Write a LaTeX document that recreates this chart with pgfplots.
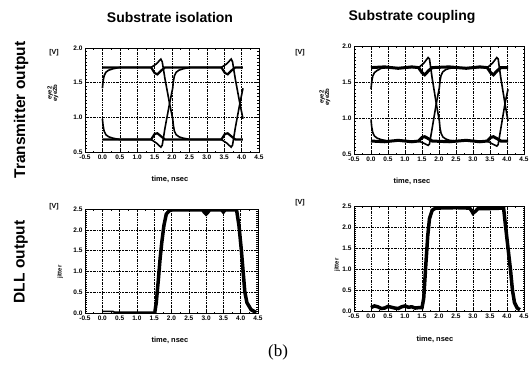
\documentclass[border=0pt]{standalone}
\usepackage{pgfplots}
\pgfplotsset{compat=1.18}
\usepackage{fontspec}
\setmainfont{Liberation Sans}
\newfontfamily\seriffont{Liberation Serif}

\pgfplotsset{
  myax/.style={
    scale only axis, width=174pt,
    xmin=-0.5, xmax=4.5,
    xtick={-0.5,0,0.5,1,1.5,2,2.5,3,3.5,4,4.5},
    grid=major,
    major grid style={black, line width=0.5pt, dash pattern=on 2pt off 1pt on 0.6pt off 1pt},
    axis line style={black, line width=0.8pt},
    tick style={black, line width=0.5pt},
    tick align=inside,
    minor y tick num=9, minor x tick num=1,
    major tick length=3pt, minor tick length=1.5pt,
    tick label style={font=\fontsize{6.5}{7}\selectfont\bfseries},
    xticklabel style={yshift=1pt},
    yticklabel style={xshift=1pt},
    /pgf/number format/fixed, /pgf/number format/fixed zerofill,
    /pgf/number format/precision=1, /pgf/number format/assume math mode=true,
    clip=true,
  },
  eyeax/.style={myax, height=104pt, ymin=0.5, ymax=2.0, ytick={0.5,1.0,1.5,2.0}},
  jitax/.style={myax, height=104pt, ymin=0, ymax=2.5, ytick={0,0.5,1.0,1.5,2.0,2.5}},
}

\begin{document}
\begin{tikzpicture}[x=1pt,y=1pt]
\useasboundingbox (0,0) rectangle (530,-378);

% Titles
\node[font=\bfseries\fontsize{14}{16}\selectfont] at (170,-17) {Substrate isolation};
\node[font=\bfseries\fontsize{14}{16}\selectfont] at (412,-17) {Substrate coupling};
\node[rotate=90, font=\bfseries\fontsize{15.5}{17}\selectfont] at (21,-110) {Transmitter output};
\node[rotate=90, font=\bfseries\fontsize{15.5}{17}\selectfont] at (21,-262) {DLL output};
\node[font=\seriffont\fontsize{17}{19}\selectfont] at (278,-352) {(b)};

% ---------------- Top-left: eye, substrate isolation
\begin{axis}[eyeax, at={(85pt,-152pt)}, anchor=south west]
\addplot[black, line width=2.2pt] coordinates {(0,1.72) (1.40,1.72) (1.50,1.64) (1.58,1.62) (1.70,1.68) (1.80,1.72) (3.42,1.72) (3.52,1.64) (3.60,1.62) (3.72,1.68) (3.82,1.72) (4.04,1.72)};
\addplot[black, line width=2.2pt] coordinates {(0,0.68) (1.40,0.68) (1.50,0.76) (1.58,0.77) (1.70,0.72) (1.80,0.68) (3.42,0.68) (3.52,0.76) (3.60,0.77) (3.72,0.72) (3.82,0.68) (4.04,0.68)};
\addplot[black, line width=1.6pt] coordinates {(0,1.42) (0.02,1.52) (0.05,1.60) (0.10,1.65) (0.18,1.68) (0.30,1.70) (0.50,1.72) (1.40,1.72) (1.55,1.77) (1.68,1.84) (1.72,1.80) (1.80,1.55) (1.93,1.20) (2.02,0.98) (2.04,0.88) (2.07,0.80) (2.12,0.75) (2.20,0.72) (2.32,0.70) (2.52,0.68) (3.42,0.68) (3.57,0.63) (3.70,0.57) (3.74,0.60) (3.82,0.85) (3.95,1.20) (4.04,1.42)};
\addplot[black, line width=1.6pt] coordinates {(0,0.98) (0.02,0.88) (0.05,0.80) (0.10,0.75) (0.18,0.72) (0.30,0.70) (0.50,0.68) (1.40,0.68) (1.55,0.63) (1.68,0.57) (1.72,0.60) (1.80,0.85) (1.93,1.20) (2.02,1.42) (2.04,1.52) (2.07,1.60) (2.12,1.65) (2.20,1.68) (2.32,1.70) (2.52,1.72) (3.42,1.72) (3.57,1.77) (3.70,1.84) (3.74,1.80) (3.82,1.55) (3.95,1.20) (4.04,0.98)};
\end{axis}
\node[font=\fontsize{7}{8}\selectfont\bfseries] at (54,-53) {[V]};
\node[rotate=90, font=\fontsize{6}{6.5}\selectfont\bfseries, align=center] at (53,-93) {eye2\\[-1pt]eye2b};
\node[font=\fontsize{7.5}{8}\selectfont\bfseries] at (170,-179) {time, nsec};

% ---------------- Top-right: eye, substrate coupling
\begin{axis}[eyeax, at={(354pt,-154pt)}, anchor=south west, width=170pt, height=108pt]
\addplot[black, line width=3pt] coordinates {(0,1.70) (0.4,1.71) (0.8,1.69) (1.2,1.71) (1.40,1.70) (1.50,1.63) (1.58,1.60) (1.70,1.66) (1.80,1.70) (2.3,1.71) (2.8,1.69) (3.2,1.71) (3.42,1.70) (3.52,1.63) (3.60,1.60) (3.72,1.66) (3.82,1.70) (4.03,1.70)};
\addplot[black, line width=3pt] coordinates {(0,0.68) (0.4,0.67) (0.8,0.69) (1.2,0.67) (1.40,0.68) (1.50,0.73) (1.58,0.74) (1.70,0.71) (1.80,0.68) (2.3,0.67) (2.8,0.69) (3.2,0.67) (3.42,0.68) (3.52,0.73) (3.60,0.74) (3.72,0.71) (3.82,0.68) (4.03,0.68)};
\addplot[black, line width=1.6pt] coordinates {(0,1.40) (0.02,1.50) (0.05,1.58) (0.10,1.63) (0.18,1.66) (0.30,1.69) (0.50,1.70) (1.40,1.70) (1.55,1.76) (1.68,1.84) (1.72,1.82) (1.80,1.55) (1.92,1.20) (2.01,0.96) (2.03,0.86) (2.06,0.79) (2.11,0.74) (2.19,0.71) (2.31,0.69) (2.51,0.68) (3.42,0.68) (3.57,0.64) (3.70,0.61) (3.74,0.63) (3.82,0.86) (3.94,1.20) (4.03,1.40)};
\addplot[black, line width=1.6pt] coordinates {(0,0.98) (0.02,0.88) (0.05,0.80) (0.10,0.75) (0.18,0.72) (0.30,0.70) (0.50,0.68) (1.40,0.68) (1.55,0.65) (1.68,0.62) (1.72,0.64) (1.80,0.86) (1.92,1.20) (2.01,1.42) (2.03,1.52) (2.06,1.59) (2.11,1.64) (2.19,1.67) (2.31,1.69) (2.51,1.70) (3.42,1.70) (3.57,1.76) (3.70,1.84) (3.74,1.82) (3.82,1.55) (3.94,1.20) (4.03,0.96)};
\end{axis}
\node[font=\fontsize{7}{8}\selectfont\bfseries] at (300,-53) {[V]};
\node[rotate=90, font=\fontsize{6}{6.5}\selectfont\bfseries, align=center] at (325,-97) {eye2\\[-1pt]eye2b};
\node[font=\fontsize{7.5}{8}\selectfont\bfseries] at (412,-181) {time, nsec};

% ---------------- Bottom-left: jitter, isolation
\begin{axis}[jitax, at={(85pt,-313pt)}, anchor=south west, width=173pt]
\addplot[black, line width=2pt] coordinates {(2.6,2.48) (3.7,2.48)};
\addplot[black, line width=1.6pt] coordinates {(0,0.04) (0.3,0.04) (0.35,0.02) (1.5,0.02)};
\addplot[black, line width=3.5pt] coordinates {(1.50,0.02) (1.52,0.03) (1.56,0.25) (1.62,0.8) (1.67,1.3) (1.72,1.7) (1.78,2.1) (1.85,2.38) (1.95,2.47) (2.05,2.48) (2.9,2.48) (2.95,2.42) (3.0,2.38) (3.05,2.42) (3.1,2.48) (3.45,2.48) (3.5,2.43) (3.55,2.48) (3.88,2.48) (3.95,2.1) (4.02,1.5) (4.07,1.0) (4.12,0.5) (4.18,0.25) (4.3,0.08) (4.45,0.01)};
\end{axis}
\node[font=\fontsize{7}{8}\selectfont\bfseries] at (54,-207) {[V]};
\node[rotate=90, font=\fontsize{6}{6.5}\selectfont\bfseries] at (60,-272) {jitter};
\node[font=\fontsize{7.5}{8}\selectfont\bfseries] at (170,-340) {time, nsec};

% ---------------- Bottom-right: jitter, coupling
\begin{axis}[jitax, at={(354pt,-311pt)}, anchor=south west, width=170pt, height=105pt]
\addplot[black, line width=3.5pt] coordinates {(0,0.08) (0.1,0.12) (0.2,0.10) (0.3,0.06) (0.4,0.07) (0.5,0.11) (0.6,0.09) (0.7,0.07) (0.8,0.06) (0.9,0.10) (1.0,0.12) (1.1,0.09) (1.2,0.10) (1.3,0.07) (1.4,0.08) (1.5,0.08) (1.55,0.3) (1.62,1.2) (1.67,1.8) (1.72,2.2) (1.80,2.40) (1.90,2.45) (2.5,2.46) (2.9,2.45) (2.95,2.40) (3.0,2.33) (3.08,2.38) (3.15,2.44) (3.5,2.44) (3.9,2.45) (3.96,2.0) (4.03,1.5) (4.10,1.0) (4.16,0.5) (4.22,0.2) (4.3,0.07) (4.38,0.03)};
\end{axis}
\node[font=\fontsize{7}{8}\selectfont\bfseries] at (300,-203) {[V]};
\node[rotate=90, font=\fontsize{6}{6.5}\selectfont\bfseries] at (337,-265) {jitter};
\node[font=\fontsize{7.5}{8}\selectfont\bfseries] at (435,-339) {time, nsec};
\end{tikzpicture}
\end{document}
